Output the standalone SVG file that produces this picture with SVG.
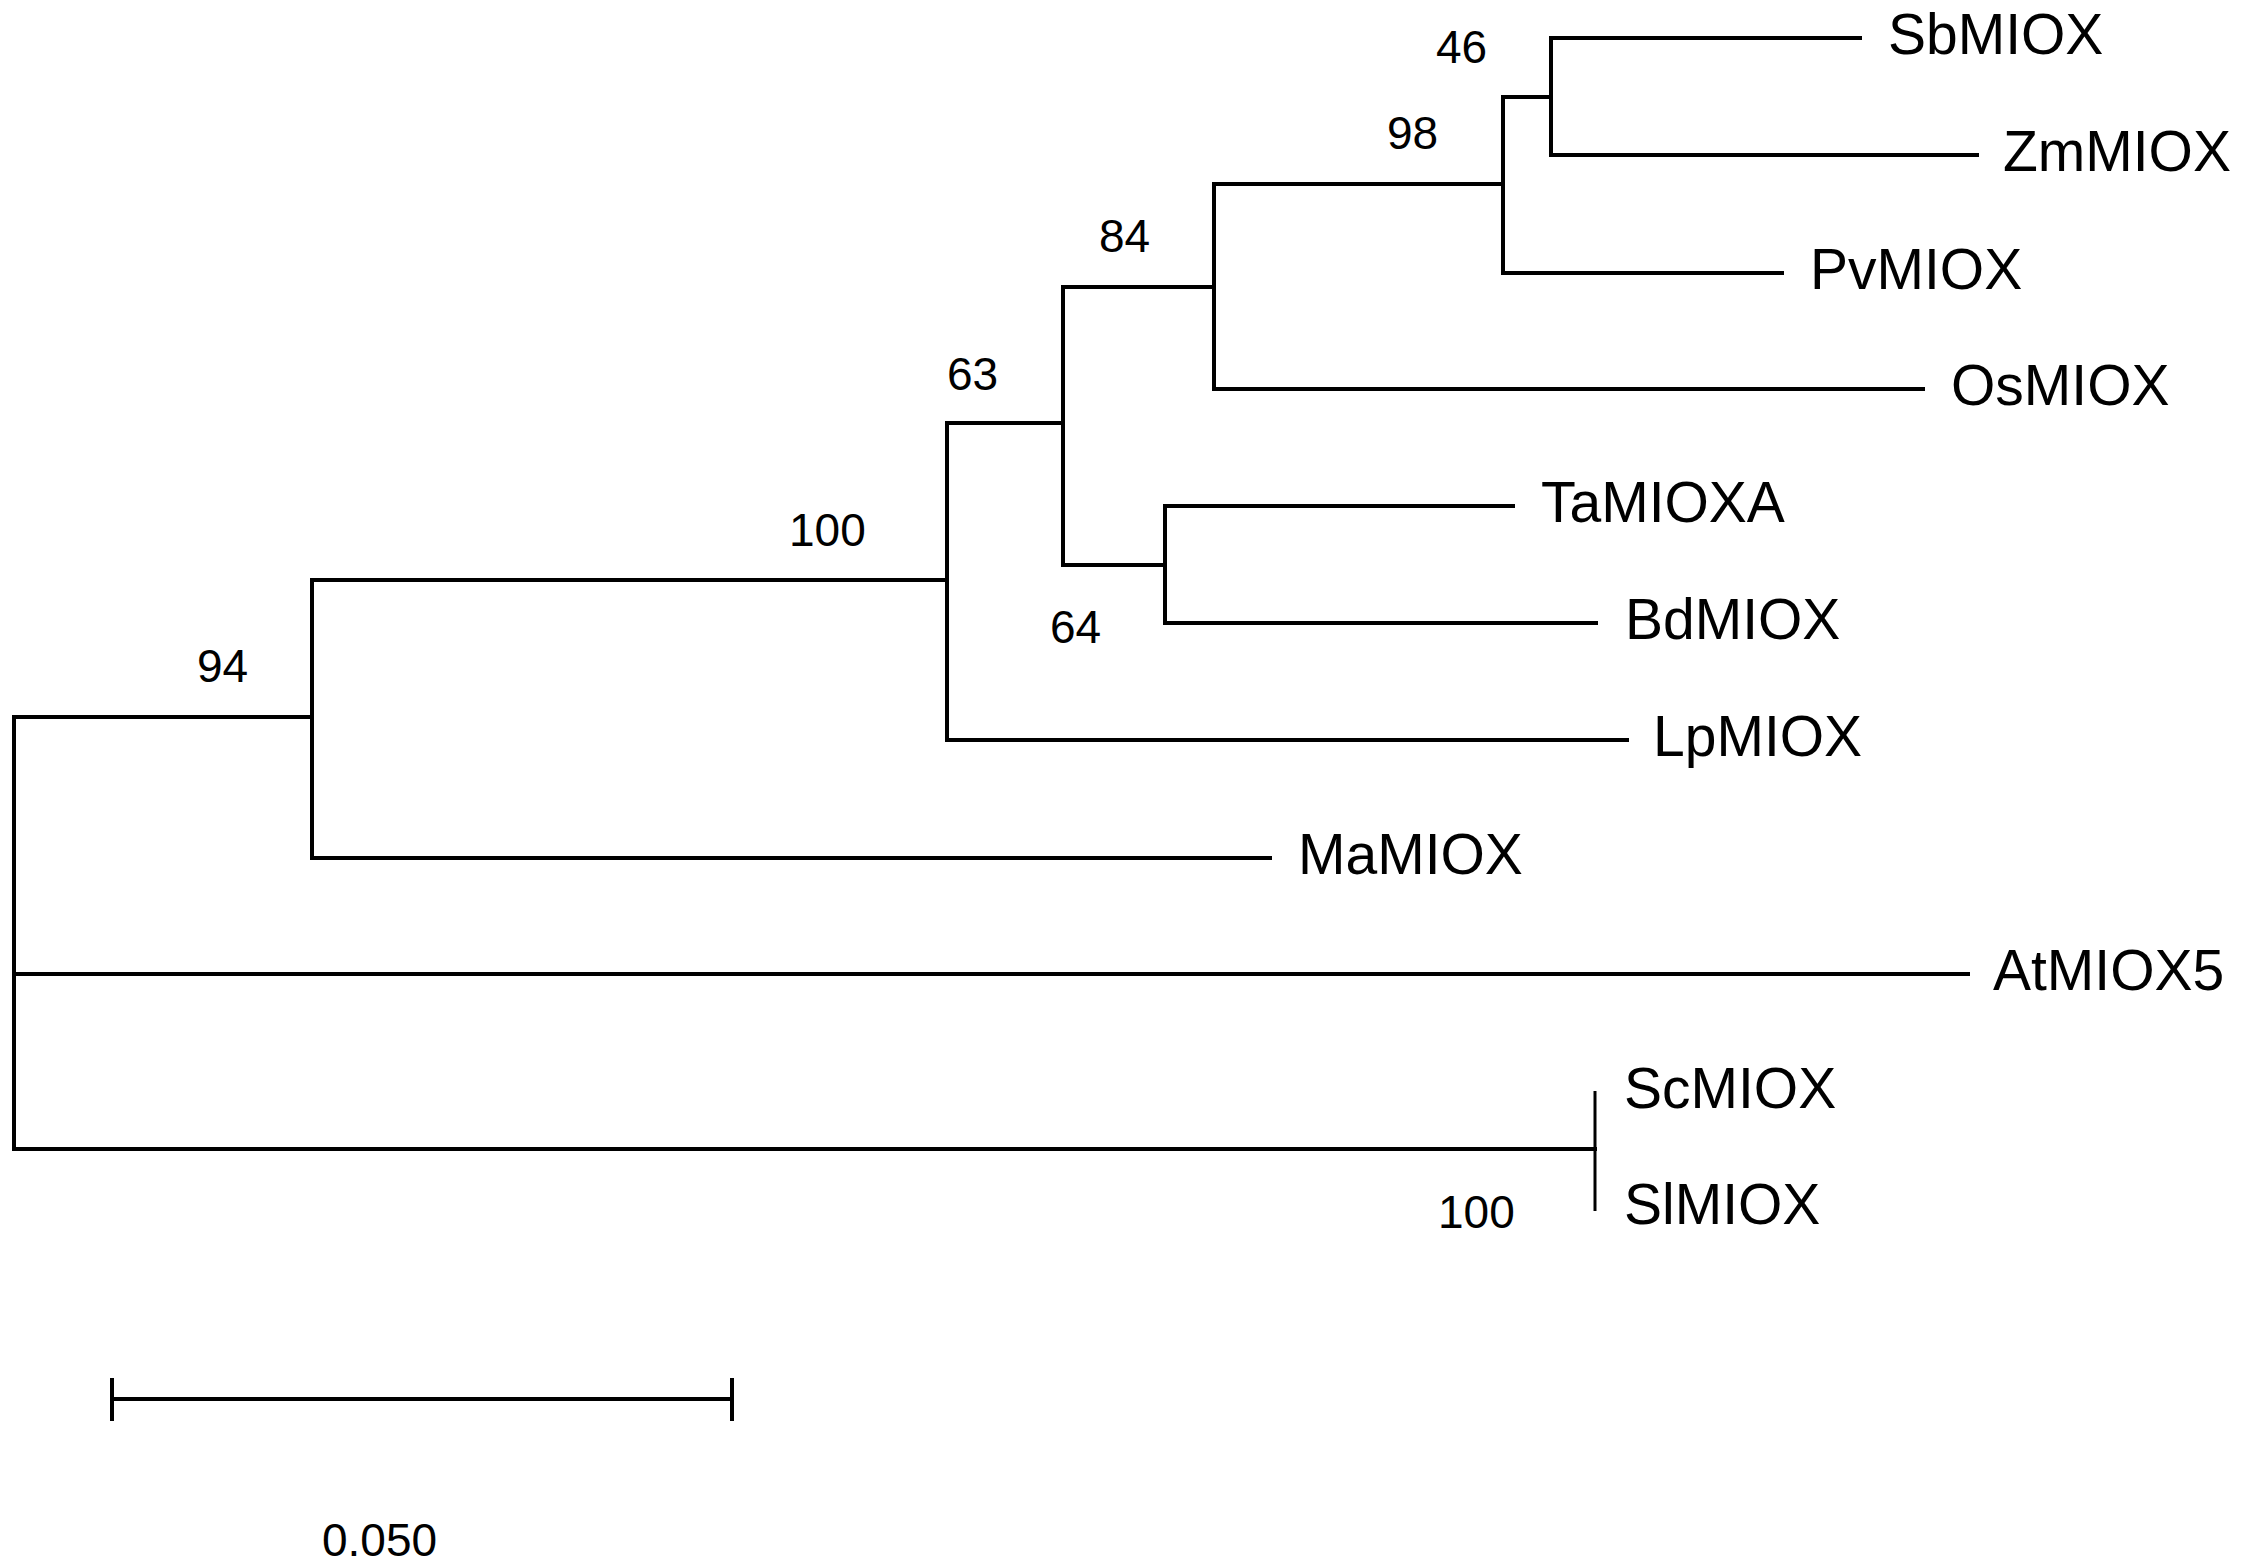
<svg xmlns="http://www.w3.org/2000/svg" width="2247" height="1568" viewBox="0 0 2247 1568">
<style>
.br{fill:none;stroke:#000;stroke-width:4;stroke-linecap:square}
.thin{fill:none;stroke:#000;stroke-width:3}
.lab{font-family:"Liberation Sans",Arial,sans-serif;font-size:57px;fill:#000}
.bs{font-family:"Liberation Sans",Arial,sans-serif;font-size:46px;fill:#000}
</style>
<rect width="2247" height="1568" fill="#fff"/>
<g id="connectors">
<path class="br" d="M14,717 V1149"/>
<path class="br" d="M14,717 H312"/>
<path class="br" d="M312,580 V858"/>
<path class="br" d="M312,858 H1270"/>
<path class="br" d="M312,580 H947"/>
<path class="br" d="M947,423 V740"/>
<path class="br" d="M947,740 H1627"/>
<path class="br" d="M947,423 H1063"/>
<path class="br" d="M1063,287 V565"/>
<path class="br" d="M1063,565 H1165"/>
<path class="br" d="M1165,506 V623"/>
<path class="br" d="M1165,506 H1513"/>
<path class="br" d="M1165,623 H1596"/>
<path class="br" d="M1063,287 H1214"/>
<path class="br" d="M1214,184 V389"/>
<path class="br" d="M1214,389 H1923"/>
<path class="br" d="M1214,184 H1503"/>
<path class="br" d="M1503,97 V273"/>
<path class="br" d="M1503,273 H1782"/>
<path class="br" d="M1503,97 H1551"/>
<path class="br" d="M1551,38 V155"/>
<path class="br" d="M1551,38 H1860"/>
<path class="br" d="M1551,155 H1977"/>
<path class="br" d="M14,974 H1968"/>
<path class="br" d="M14,1149 H1595"/>
<path class="thin" d="M1595,1091 V1211"/>
</g>
<g id="node-46"><text class="bs" x="1436" y="63">46</text></g>
<g id="node-98"><text class="bs" x="1387" y="149">98</text></g>
<g id="node-84"><text class="bs" x="1099" y="252">84</text></g>
<g id="node-63"><text class="bs" x="947" y="390">63</text></g>
<g id="node-100a"><text class="bs" x="789" y="546">100</text></g>
<g id="node-64"><text class="bs" x="1050" y="643">64</text></g>
<g id="node-94"><text class="bs" x="197" y="682">94</text></g>
<g id="node-100b"><text class="bs" x="1438" y="1228">100</text></g>
<g id="leaf-SbMIOX"><text class="lab" x="1888" y="54">SbMIOX</text></g>
<g id="leaf-ZmMIOX"><text class="lab" x="2003" y="171">ZmMIOX</text></g>
<g id="leaf-PvMIOX"><text class="lab" x="1810" y="289">PvMIOX</text></g>
<g id="leaf-OsMIOX"><text class="lab" x="1951" y="405">OsMIOX</text></g>
<g id="leaf-TaMIOXA"><text class="lab" x="1541" y="522">TaMIOXA</text></g>
<g id="leaf-BdMIOX"><text class="lab" x="1625" y="639">BdMIOX</text></g>
<g id="leaf-LpMIOX"><text class="lab" x="1653" y="756">LpMIOX</text></g>
<g id="leaf-MaMIOX"><text class="lab" x="1298" y="874">MaMIOX</text></g>
<g id="leaf-AtMIOX5"><text class="lab" x="1993" y="990">AtMIOX5</text></g>
<g id="leaf-ScMIOX"><text class="lab" x="1624" y="1108">ScMIOX</text></g>
<g id="leaf-SlMIOX"><text class="lab" x="1624" y="1224">SlMIOX</text></g>
<g id="scale-bar">
<path class="br" d="M112,1399 H732"/>
<path class="br" d="M112,1380 V1419"/>
<path class="br" d="M732,1380 V1419"/>
<text class="bs" x="322" y="1556">0.050</text>
</g>
</svg>
